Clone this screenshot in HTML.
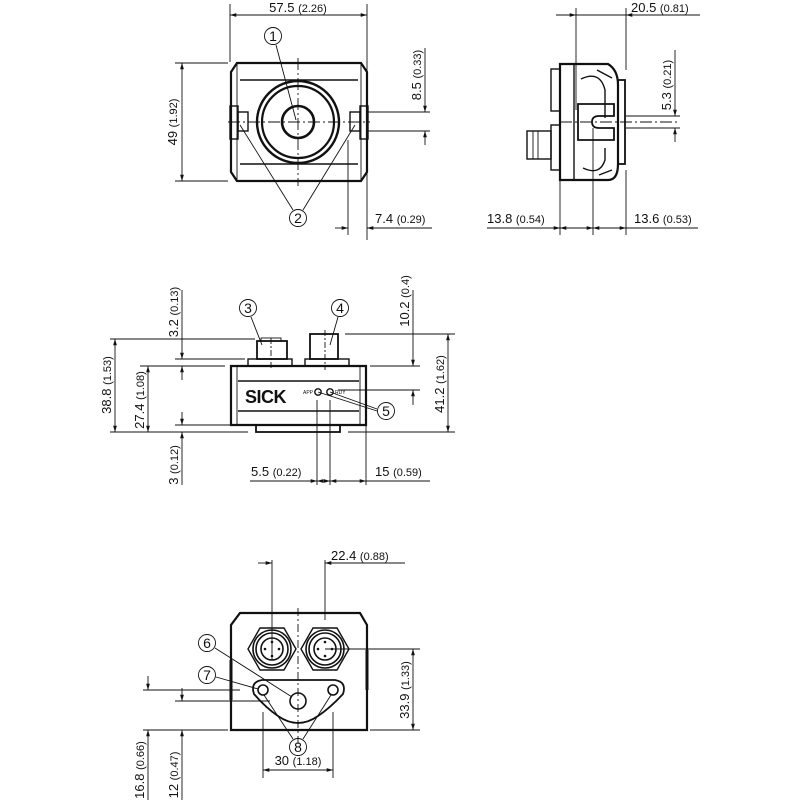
<!DOCTYPE html>
<html><head><meta charset="utf-8"><style>
html,body{margin:0;padding:0;background:#fff}
svg{display:block}
text{font-family:"Liberation Sans",sans-serif;fill:#111}
.t{font-size:13px}.s{font-size:11px}
.n{font-size:14px}
</style></head><body>
<svg width="800" height="800" viewBox="0 0 800 800" xmlns="http://www.w3.org/2000/svg">
<defs>
<marker id="a" viewBox="0 0 10 10" refX="10" refY="5" markerWidth="7" markerHeight="7" orient="auto-start-reverse"><path d="M0,2 L10,5 L0,8 z" fill="#111"/></marker>
</defs>
<g stroke="#111" fill="none" stroke-width="0.9">
<!-- ===== VIEW 1 ===== -->
<line x1="230" y1="4" x2="230" y2="62"/><line x1="367" y1="4" x2="367" y2="240"/>
<line x1="230" y1="15" x2="367" y2="15" marker-start="url(#a)" marker-end="url(#a)"/>
<line x1="175" y1="63" x2="228" y2="63"/><line x1="175" y1="181" x2="228" y2="181"/>
<line x1="182" y1="63" x2="182" y2="181" marker-start="url(#a)" marker-end="url(#a)"/>
<path d="M237,63 L361,63 L367,72 L367,172 L361,181 L237,181 L231,172 L231,72 Z" stroke-width="2.2"/>
<line x1="237" y1="63" x2="237" y2="181"/><line x1="361" y1="63" x2="361" y2="181"/>
<line x1="240" y1="80" x2="358" y2="80" stroke-width="1.6"/><line x1="240" y1="164" x2="358" y2="164" stroke-width="1.6"/>
<rect x="230" y="106" width="8" height="33" stroke-width="1.4"/><rect x="238" y="112" width="10" height="19" stroke-width="1.4"/>
<rect x="360" y="106" width="8" height="33" stroke-width="1.4"/><rect x="350" y="112" width="10" height="19" stroke-width="1.4"/>
<circle cx="298" cy="122" r="41" stroke-width="2.4"/><circle cx="298" cy="122" r="36" stroke-width="2.2"/><circle cx="298" cy="122" r="16" stroke-width="2.6"/>
<line x1="298" y1="58" x2="298" y2="186" stroke-dasharray="12,3,2,3"/><line x1="228" y1="122" x2="370" y2="122" stroke-dasharray="12,3,2,3"/>
<line x1="368" y1="112" x2="430" y2="112"/><line x1="368" y1="131" x2="430" y2="131"/>
<line x1="425" y1="48" x2="425" y2="112" marker-end="url(#a)"/><line x1="425" y1="145" x2="425" y2="131" marker-end="url(#a)"/>
<line x1="348" y1="140" x2="348" y2="235"/>
<line x1="335" y1="228" x2="348" y2="228" marker-end="url(#a)"/><line x1="432" y1="228" x2="367" y2="228" marker-end="url(#a)"/>
<circle cx="273" cy="36" r="8.5"/><line x1="276" y1="45" x2="296" y2="120"/>
<circle cx="298" cy="218" r="8.5"/><line x1="293" y1="210" x2="240" y2="125"/><line x1="303" y1="210" x2="355" y2="125"/>
<!-- ===== VIEW 2 ===== -->
<line x1="576" y1="8" x2="576" y2="110"/><line x1="626" y1="8" x2="626" y2="70"/><line x1="626" y1="170" x2="626" y2="235"/>
<line x1="556" y1="15" x2="576" y2="15" marker-end="url(#a)"/>
<line x1="700" y1="15" x2="626" y2="15" marker-end="url(#a)"/><line x1="576" y1="15" x2="626" y2="15"/>
<path d="M560,64 L608,64 Q618,70 618,85 L618,164 Q618,180 608,180 L560,180 Z" stroke-width="2.2"/>
<line x1="574" y1="64" x2="574" y2="180" stroke-width="1.4"/>
<path d="M597,70 L612,78 M581,79 Q600,70 605,90 L605,118 M605,148 L605,160 Q600,176 583,168 M599,175 L612,170" stroke-width="1.4"/>
<rect x="618" y="80" width="7" height="84" stroke-width="1.8"/>
<rect x="551" y="69" width="9" height="42" stroke-width="1.4"/>
<rect x="551" y="125" width="9" height="45" stroke-width="1.4"/>
<rect x="527" y="131" width="24" height="28" stroke-width="1.4"/><line x1="533" y1="131" x2="533" y2="159"/><line x1="538" y1="131" x2="538" y2="159"/>
<path d="M578,104 L614,104 L614,116 L599,116 Q592,116 592,122 Q592,128 599,128 L614,128 L614,140 L578,140 Z" stroke-width="1.8"/>
<line x1="560" y1="122" x2="680" y2="122" stroke-dasharray="12,3,2,3"/>
<line x1="593" y1="128" x2="593" y2="235"/><line x1="560" y1="180" x2="560" y2="235"/>
<line x1="626" y1="116" x2="680" y2="116"/><line x1="626" y1="128" x2="680" y2="128"/>
<line x1="675" y1="50" x2="675" y2="116" marker-end="url(#a)"/><line x1="675" y1="142" x2="675" y2="128" marker-end="url(#a)"/>
<line x1="487" y1="228" x2="560" y2="228" marker-end="url(#a)"/><line x1="560" y1="228" x2="593" y2="228" marker-start="url(#a)" marker-end="url(#a)"/>
<line x1="593" y1="228" x2="626" y2="228" marker-start="url(#a)" marker-end="url(#a)"/><line x1="698" y1="228" x2="626" y2="228"/>
<!-- ===== VIEW 3 ===== -->
<path d="M231,366 L366,366 L366,425 L231,425 Z" stroke-width="2.2"/>
<line x1="237" y1="366" x2="237" y2="425"/><line x1="360" y1="366" x2="360" y2="425"/>
<line x1="238" y1="381" x2="359" y2="381" stroke-width="1.6"/><line x1="238" y1="411" x2="359" y2="411" stroke-width="1.6"/>
<rect x="256" y="425" width="84" height="7" stroke-width="1.8"/>
<rect x="248" y="359" width="44" height="7" stroke-width="1.4"/><rect x="257" y="341" width="30" height="18" stroke-width="1.8"/><rect x="261" y="338" width="20" height="3"/>
<rect x="305" y="359" width="44" height="7" stroke-width="1.4"/><rect x="310" y="334" width="28" height="25" stroke-width="1.8"/>
<line x1="271" y1="338" x2="271" y2="370" stroke-dasharray="6,2,2,2"/><line x1="325" y1="330" x2="325" y2="370" stroke-dasharray="6,2,2,2"/>
<circle cx="318" cy="392" r="3.2" stroke-width="1.4"/><circle cx="330" cy="392" r="3.2" stroke-width="1.4"/>
<line x1="318" y1="392" x2="377" y2="411"/><line x1="330" y1="392" x2="377" y2="409"/>
<circle cx="386" cy="411" r="8.5"/>
<circle cx="248" cy="308" r="8.5"/><line x1="251" y1="317" x2="262" y2="345"/>
<circle cx="340" cy="308" r="8.5"/><line x1="338" y1="317" x2="330" y2="345"/>
<line x1="110" y1="339" x2="255" y2="339"/><line x1="110" y1="432" x2="248" y2="432"/><line x1="140" y1="366" x2="225" y2="366"/>
<line x1="115" y1="339" x2="115" y2="432" marker-start="url(#a)" marker-end="url(#a)"/>
<line x1="148" y1="366" x2="148" y2="432" marker-start="url(#a)" marker-end="url(#a)"/>
<line x1="175" y1="359" x2="245" y2="359"/><line x1="175" y1="425" x2="230" y2="425"/>
<line x1="182" y1="290" x2="182" y2="359" marker-end="url(#a)"/><line x1="182" y1="380" x2="182" y2="366" marker-end="url(#a)"/>
<line x1="182" y1="412" x2="182" y2="425" marker-end="url(#a)"/><line x1="182" y1="485" x2="182" y2="432" marker-end="url(#a)"/>
<line x1="345" y1="334" x2="455" y2="334"/><line x1="370" y1="366" x2="420" y2="366"/><line x1="338" y1="390" x2="420" y2="390"/><line x1="348" y1="432" x2="455" y2="432"/>
<line x1="448" y1="334" x2="448" y2="432" marker-start="url(#a)" marker-end="url(#a)"/>
<line x1="413" y1="290" x2="413" y2="366" marker-end="url(#a)"/><line x1="413" y1="405" x2="413" y2="390" marker-end="url(#a)"/>
<line x1="317" y1="400" x2="317" y2="485"/><line x1="330" y1="400" x2="330" y2="485"/><line x1="366" y1="426" x2="366" y2="485"/>
<line x1="250" y1="481" x2="317" y2="481" marker-end="url(#a)"/><line x1="317" y1="481" x2="330" y2="481" marker-start="url(#a)" marker-end="url(#a)"/>
<line x1="330" y1="481" x2="366" y2="481" marker-start="url(#a)" marker-end="url(#a)"/><line x1="366" y1="481" x2="430" y2="481"/>
<!-- ===== VIEW 4 ===== -->
<path d="M240,613 L360,613 L367,625 L367,730 L231,730 L231,625 Z" stroke-width="2.2"/>
<line x1="231" y1="660" x2="231" y2="700" stroke-width="3"/><line x1="367" y1="650" x2="367" y2="690" stroke-width="3"/>
<polygon points="248,649 260,628 284,628 296,649 284,670 260,670" stroke-width="1.4"/>
<circle cx="272" cy="649" r="19" stroke-width="1.6"/><circle cx="272" cy="649" r="16" stroke-width="1.6"/><circle cx="272" cy="649" r="11" stroke-width="1.6"/>
<polygon points="301,649 313,628 337,628 349,649 337,670 313,670" stroke-width="1.4"/>
<circle cx="325" cy="649" r="19" stroke-width="1.6"/><circle cx="325" cy="649" r="16" stroke-width="1.6"/><circle cx="325" cy="649" r="11" stroke-width="1.6"/>
<g fill="#111" stroke="none"><circle cx="272" cy="642" r="1.3"/><circle cx="265" cy="649" r="1.3"/><circle cx="279" cy="649" r="1.3"/><circle cx="272" cy="656" r="1.3"/><circle cx="325" cy="642" r="1.3"/><circle cx="318" cy="649" r="1.3"/><circle cx="332" cy="649" r="1.3"/><circle cx="325" cy="656" r="1.3"/></g>
<path d="M262,680 L335,680 Q347,682 343,694 Q330,708 318,716 Q298,730 278,716 Q266,708 254,694 Q250,682 262,680 Z" stroke-width="1.8"/>
<circle cx="263" cy="690" r="5" stroke-width="1.6"/><circle cx="333" cy="690" r="5" stroke-width="1.6"/><circle cx="298" cy="701" r="8" stroke-width="1.6"/>
<line x1="298" y1="608" x2="298" y2="745" stroke-dasharray="8,3,2,3"/>
<line x1="272" y1="560" x2="272" y2="660"/><line x1="325" y1="560" x2="325" y2="620"/>
<line x1="258" y1="563" x2="272" y2="563" marker-end="url(#a)"/><line x1="405" y1="563" x2="325" y2="563" marker-end="url(#a)"/>
<line x1="325" y1="649" x2="420" y2="649"/><line x1="370" y1="730" x2="420" y2="730"/>
<line x1="413" y1="649" x2="413" y2="730" marker-start="url(#a)" marker-end="url(#a)"/>
<line x1="143" y1="690" x2="240" y2="690"/><line x1="175" y1="701" x2="270" y2="701"/><line x1="143" y1="730" x2="228" y2="730"/>
<line x1="148" y1="676" x2="148" y2="690" marker-end="url(#a)"/><line x1="148" y1="800" x2="148" y2="730" marker-end="url(#a)"/>
<line x1="182" y1="688" x2="182" y2="701" marker-end="url(#a)"/><line x1="182" y1="800" x2="182" y2="730" marker-end="url(#a)"/>
<line x1="263" y1="712" x2="263" y2="778"/><line x1="333" y1="712" x2="333" y2="778"/>
<line x1="263" y1="770" x2="333" y2="770" marker-start="url(#a)" marker-end="url(#a)"/>
<circle cx="207" cy="643" r="8.5"/><line x1="215" y1="648" x2="292" y2="697"/>
<circle cx="207" cy="675" r="8.5"/><line x1="216" y1="677" x2="258" y2="689"/>
<circle cx="298" cy="747" r="8.5"/><line x1="293" y1="739" x2="264" y2="695"/><line x1="303" y1="739" x2="331" y2="695"/>
</g>
<g>
<text x="298" y="12" class="t" text-anchor="middle">57.5 <tspan class="s">(2.26)</tspan></text>
<text transform="translate(177,122) rotate(-90)" class="t" text-anchor="middle">49 <tspan class="s">(1.92)</tspan></text>
<text transform="translate(421,75) rotate(-90)" class="t" text-anchor="middle">8.5 <tspan class="s">(0.33)</tspan></text>
<text x="375" y="223" class="t">7.4 <tspan class="s">(0.29)</tspan></text>
<text x="273" y="41" class="n" text-anchor="middle">1</text>
<text x="298" y="223" class="n" text-anchor="middle">2</text>
<text x="631" y="12" class="t">20.5 <tspan class="s">(0.81)</tspan></text>
<text transform="translate(671,85) rotate(-90)" class="t" text-anchor="middle">5.3 <tspan class="s">(0.21)</tspan></text>
<text x="487" y="223" class="t">13.8 <tspan class="s">(0.54)</tspan></text>
<text x="634" y="223" class="t">13.6 <tspan class="s">(0.53)</tspan></text>
<text x="245" y="403" font-size="18" font-weight="bold" letter-spacing="-0.5">SICK</text>
<text x="303" y="394" font-size="5">APP</text><text x="335" y="394" font-size="5">RDY</text>
<text x="248" y="313" class="n" text-anchor="middle">3</text>
<text x="340" y="313" class="n" text-anchor="middle">4</text>
<text x="386" y="416" class="n" text-anchor="middle">5</text>
<text transform="translate(178,312) rotate(-90)" class="t" text-anchor="middle">3.2 <tspan class="s">(0.13)</tspan></text>
<text transform="translate(111,385) rotate(-90)" class="t" text-anchor="middle">38.8 <tspan class="s">(1.53)</tspan></text>
<text transform="translate(144,400) rotate(-90)" class="t" text-anchor="middle">27.4 <tspan class="s">(1.08)</tspan></text>
<text transform="translate(178,465) rotate(-90)" class="t" text-anchor="middle">3 <tspan class="s">(0.12)</tspan></text>
<text transform="translate(409,301) rotate(-90)" class="t" text-anchor="middle">10.2 <tspan class="s">(0.4)</tspan></text>
<text transform="translate(444,384) rotate(-90)" class="t" text-anchor="middle">41.2 <tspan class="s">(1.62)</tspan></text>
<text x="251" y="476" class="t">5.5 <tspan class="s">(0.22)</tspan></text>
<text x="375" y="476" class="t">15 <tspan class="s">(0.59)</tspan></text>
<text x="331" y="560" class="t">22.4 <tspan class="s">(0.88)</tspan></text>
<text transform="translate(409,690) rotate(-90)" class="t" text-anchor="middle">33.9 <tspan class="s">(1.33)</tspan></text>
<text transform="translate(144,770) rotate(-90)" class="t" text-anchor="middle">16.8 <tspan class="s">(0.66)</tspan></text>
<text transform="translate(178,775) rotate(-90)" class="t" text-anchor="middle">12 <tspan class="s">(0.47)</tspan></text>
<text x="298" y="765" class="t" text-anchor="middle">30 <tspan class="s">(1.18)</tspan></text>
<text x="207" y="648" class="n" text-anchor="middle">6</text>
<text x="207" y="680" class="n" text-anchor="middle">7</text>
<text x="298" y="752" class="n" text-anchor="middle">8</text>
</g>
</svg>
</body></html>
